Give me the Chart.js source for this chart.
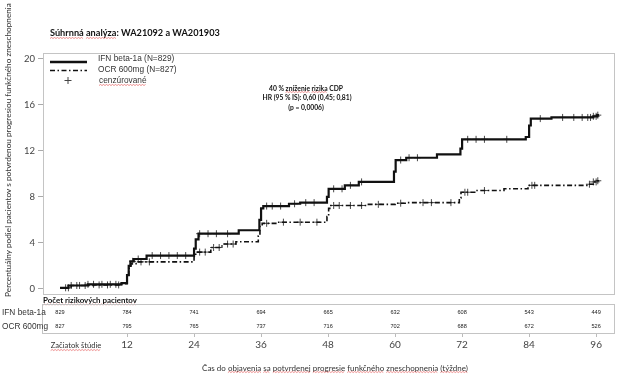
<!DOCTYPE html>
<html><head><meta charset="utf-8">
<script src="https://cdn.jsdelivr.net/npm/chart.js@4"></script>
<style>html,body{margin:0;padding:0;background:#fff}#wrap{width:626px;height:383px;position:relative}</style>
</head><body><div id="wrap"><canvas id="c" width="626" height="383"></canvas></div>
<script>
// ---- data ----
const ifnTimes  = [0, 1.5, 5, 11, 12, 12.3, 12.6, 13.2, 15.5, 24, 24.3, 24.8, 32, 35.7, 36, 36.4, 41, 43, 47.8, 48.1, 51, 53.5, 59.8, 60.1, 62, 67.5, 71.7, 72, 83.4, 84, 84.3, 88, 95.5, 96.2, 96.5];
const ifnValues = [0.1, 0.3, 0.4, 0.5, 1.2, 2.0, 2.4, 2.6, 2.9, 3.5, 4.3, 4.8, 5.1, 6.0, 7.0, 7.2, 7.4, 7.5, 8.0, 8.7, 9.0, 9.3, 10.2, 11.2, 11.4, 11.7, 12.2, 13.0, 13.2, 14.2, 14.8, 14.9, 15.0, 15.1, 15.1];
const ocrTimes  = [0, 2, 6, 11, 12, 12.3, 12.7, 14, 24, 24.3, 27, 29, 31.5, 35.5, 35.8, 36.2, 39, 47.8, 48.1, 48.5, 55, 60, 62, 71.5, 71.8, 74.5, 79.5, 83.8, 94.5, 95.5, 96.2, 96.5];
const ocrValues = [0.1, 0.3, 0.35, 0.45, 1.0, 1.8, 2.2, 2.35, 2.8, 3.2, 3.6, 3.9, 4.1, 4.6, 5.5, 5.7, 5.8, 6.3, 7.0, 7.25, 7.35, 7.45, 7.5, 7.9, 8.4, 8.55, 8.7, 9.0, 9.1, 9.3, 9.4, 9.4];
const ifnCensoredTimes = [1, 2, 3.5, 5, 6, 7.5, 9, 10, 13, 14, 16.5, 18, 19.5, 21, 22.5, 25, 26.5, 28, 30, 37, 38, 39.5, 42, 44, 45.5, 49, 50.5, 52, 54, 61, 62.5, 64, 73, 74.5, 76, 80, 86, 90, 92, 93.5, 94.5, 95, 95.5, 96, 96.3];
const ocrCensoredTimes = [1.5, 3, 4.5, 7, 8.5, 10.5, 14.5, 16, 25, 26, 27.5, 28.5, 30, 31, 37, 40, 43, 46, 49, 50, 52, 54, 57, 61, 65, 66.5, 70, 72.5, 73, 76, 84.5, 85, 94.8, 95.5, 96, 96.3];
const riskTimes = [0, 12, 24, 36, 48, 60, 72, 84, 96];
const ifnAtRisk = [829, 784, 741, 694, 665, 632, 608, 543, 449];
const ocrAtRisk = [827, 795, 765, 737, 716, 702, 688, 672, 526];
const xTickLabels = ['Začiatok štúdie', '12', '24', '36', '48', '60', '72', '84', '96'];
const yTickValues = [0, 4, 8, 12, 16, 20];
const seriesNames = ['IFN beta-1a (N=829)', 'OCR 600mg (N=827)', 'cenzúrované'];
const riskRowLabels = ['IFN beta-1a', 'OCR 600mg'];
const titleText = 'Súhrnná analýza: WA21092 a WA201903';
const annotationLines = ['40 % zníženie rizika CDP', 'HR (95 % IS): 0,60 (0,45; 0,81)', '(p = 0,0006)'];
const yTitle = 'Percentuálny podiel pacientov s potvrdenou progresiou funkčného zneschopnenia';
const xTitle = 'Čas do objavenia sa potvrdenej progresie funkčného zneschopnenia (týždne)';
const riskHeader = 'Počet rizikových pacientov';

function stepValue(times, values, t) {
  let v = values[0];
  for (let i = 0; i < times.length; i++) { if (times[i] <= t) v = values[i]; }
  return v;
}
const toPts = (ts, vs) => ts.map((t, i) => ({x: t, y: vs[i]}));
const censorPts = (cts, ts, vs) => cts.map(t => ({x: t, y: stepValue(ts, vs, t)}));

const CAL = 'Lato, "Open Sans", sans-serif';
const ARI = '"Liberation Sans", Arial, sans-serif';
const DASHDOT = [5, 2.5, 1.5, 2.5];

function fitFont(ctx, text, weight, family, targetW) {
  ctx.font = weight + ' 10px ' + family;
  const w = ctx.measureText(text).width;
  const size = 10 * targetW / w;
  ctx.font = weight + ' ' + size.toFixed(2) + 'px ' + family;
  return size;
}
// red spell-check style wavy underline
function squiggle(ctx, x0, x1, y) {
  ctx.save();
  ctx.strokeStyle = 'rgba(225,70,70,0.75)'; ctx.lineWidth = 0.8; ctx.setLineDash([]);
  ctx.beginPath();
  let up = true;
  ctx.moveTo(x0, y);
  for (let x = x0 + 1.5; x <= x1; x += 1.5) { ctx.lineTo(x, up ? y - 1 : y); up = !up; }
  ctx.stroke();
  ctx.restore();
}
// underline a substring of left-aligned text drawn at x
function underlineSub(ctx, text, sub, x, y) {
  const i = text.indexOf(sub);
  if (i < 0) return;
  const a = x + ctx.measureText(text.slice(0, i)).width;
  const b = a + ctx.measureText(sub).width;
  squiggle(ctx, a, b, y);
}

const overlay = {
  id: 'overlay',
  beforeDatasetsDraw(chart) {
    const {ctx, chartArea: a} = chart;
    ctx.save();
    ctx.strokeStyle = '#c4c4c4'; ctx.lineWidth = 1;
    ctx.strokeRect(a.left + 0.5, a.top + 0.5, a.right - a.left, a.bottom - a.top);
    ctx.restore();
  },
  afterDraw(chart) {
    const {ctx} = chart;
    const xs = chart.scales.x;
    ctx.save();
    ctx.textBaseline = 'middle';
    // Title
    ctx.fillStyle = '#111'; ctx.textAlign = 'left';
    fitFont(ctx, titleText, 'bold', CAL, 170);
    ctx.fillText(titleText, 50, 33);
    underlineSub(ctx, titleText, 'Súhrnná', 50, 38.5);
    underlineSub(ctx, titleText, 'analýza', 50, 38.5);
    // Y title
    ctx.save();
    ctx.translate(8, 150); ctx.rotate(-Math.PI / 2);
    ctx.fillStyle = '#333'; ctx.textAlign = 'center';
    fitFont(ctx, yTitle, 'normal', CAL, 294);
    ctx.fillText(yTitle, 0, 0);
    ctx.restore();
    // Legend
    ctx.strokeStyle = '#111';
    ctx.lineWidth = 2.4; ctx.setLineDash([]);
    ctx.beginPath(); ctx.moveTo(50, 62); ctx.lineTo(87, 62); ctx.stroke();
    ctx.lineWidth = 1.5; ctx.setLineDash(DASHDOT);
    ctx.beginPath(); ctx.moveTo(50, 70.5); ctx.lineTo(87, 70.5); ctx.stroke();
    ctx.setLineDash([]); ctx.lineWidth = 1;
    ctx.strokeStyle = '#444';
    ctx.beginPath(); ctx.moveTo(64.5, 80.5); ctx.lineTo(71.5, 80.5); ctx.moveTo(68, 77); ctx.lineTo(68, 84); ctx.stroke();
    ctx.fillStyle = '#333'; ctx.textAlign = 'left';
    ctx.font = '8.3px ' + ARI;
    ctx.fillText(seriesNames[0], 98, 59);
    ctx.fillText(seriesNames[1], 98, 70);
    ctx.fillText(seriesNames[2], 99, 80.5);
    underlineSub(ctx, seriesNames[2], seriesNames[2], 99, 85.5);
    // Annotation
    ctx.fillStyle = '#111';
    fitFont(ctx, annotationLines[1], 'bold', CAL, 89);
    ctx.textAlign = 'center';
    ctx.fillText(annotationLines[0], 306, 88.5);
    ctx.fillText(annotationLines[1], 307, 98);
    ctx.fillText(annotationLines[2], 306, 107.5);
    const w0 = ctx.measureText(annotationLines[0]).width;
    ctx.textAlign = 'left';
    underlineSub(ctx, annotationLines[0], 'zníženie', 306 - w0 / 2, 92.5);
    underlineSub(ctx, annotationLines[0], 'rizika', 306 - w0 / 2, 92.5);
    // Risk table
    ctx.textAlign = 'left'; ctx.fillStyle = '#111';
    fitFont(ctx, riskHeader, 'bold', CAL, 94);
    ctx.fillText(riskHeader, 43, 300.5);
    underlineSub(ctx, riskHeader, riskHeader, 43, 305);
    ctx.strokeStyle = '#c4c4c4'; ctx.lineWidth = 1;
    ctx.strokeRect(42.5, 304.5, 572, 29);
    ctx.fillStyle = '#333'; ctx.font = '8.3px ' + ARI;
    ctx.fillText(riskRowLabels[0], 2, 312.5);
    ctx.fillText(riskRowLabels[1], 2, 327);
    ctx.textAlign = 'center'; ctx.font = '5.6px ' + ARI; ctx.fillStyle = '#222';
    riskTimes.forEach((t, i) => {
      const px = xs.getPixelForValue(t);
      ctx.fillText(String(ifnAtRisk[i]), px, 312.5);
      ctx.fillText(String(ocrAtRisk[i]), px, 326.5);
    });
    // x tick labels
    ctx.strokeStyle = '#bbb';
    riskTimes.forEach((t, i) => {
      const px = xs.getPixelForValue(t);
      if (i === 0) {
        ctx.font = '7.6px ' + CAL; ctx.fillStyle = '#333';
        ctx.textAlign = 'left';
        const w = ctx.measureText(xTickLabels[0]).width;
        const x0 = px + 16 - w / 2;
        ctx.fillText(xTickLabels[0], x0, 346);
        underlineSub(ctx, xTickLabels[0], xTickLabels[0], x0, 350.5);
        ctx.textAlign = 'center';
      } else {
        ctx.beginPath(); ctx.moveTo(Math.round(px) + 0.5, 334); ctx.lineTo(Math.round(px) + 0.5, 337); ctx.stroke();
        ctx.font = '10px ' + CAL; ctx.fillStyle = '#444';
        ctx.fillText(xTickLabels[i], px, 345);
      }
    });
    // x title
    ctx.fillStyle = '#333';
    fitFont(ctx, xTitle, 'normal', CAL, 266);
    ctx.textAlign = 'left';
    const xw = ctx.measureText(xTitle).width;
    const xx0 = 335 - xw / 2;
    ctx.fillText(xTitle, xx0, 368);
    ['objavenia', 'sa', 'potvrdenej', 'progresie', 'funkčného', 'zneschopnenia', '(týždne)'].forEach(s => underlineSub(ctx, xTitle, s, xx0, 372.5));
    ctx.restore();
  }
};

new Chart(document.getElementById('c'), {
  type: 'line',
  data: {
    datasets: [
      {label: seriesNames[0], data: toPts(ifnTimes, ifnValues), stepped: 'before', borderColor: '#111', borderWidth: 2.2, pointRadius: 0, fill: false},
      {label: seriesNames[1], data: toPts(ocrTimes, ocrValues), stepped: 'before', borderColor: '#111', borderWidth: 1.6, borderDash: DASHDOT, pointRadius: 0, fill: false},
      {label: 'c1', data: censorPts(ifnCensoredTimes, ifnTimes, ifnValues), showLine: false, pointStyle: 'cross', pointRadius: 3.5, pointBorderWidth: 0.9, pointBorderColor: '#333'},
      {label: 'c2', data: censorPts(ocrCensoredTimes, ocrTimes, ocrValues), showLine: false, pointStyle: 'cross', pointRadius: 3.5, pointBorderWidth: 0.9, pointBorderColor: '#333'}
    ]
  },
  options: {
    responsive: false, animation: false,
    layout: {padding: {top: 53, right: 12, bottom: 89, left: 0}},
    plugins: {legend: {display: false}, tooltip: {enabled: false}},
    scales: {
      x: {type: 'linear', min: -3.05, max: 99.2, display: false},
      y: {
        min: -0.44, max: 20.5,
        afterBuildTicks: s => { s.ticks = yTickValues.map(v => ({value: v})); },
        afterFit: s => { s.width = 43; },
        ticks: {font: {family: CAL, size: 9.5}, color: '#444', padding: 3},
        grid: {drawOnChartArea: false, tickLength: 5, color: '#aaa'},
        border: {display: false}
      }
    }
  },
  plugins: [overlay]
});
</script></body></html>
